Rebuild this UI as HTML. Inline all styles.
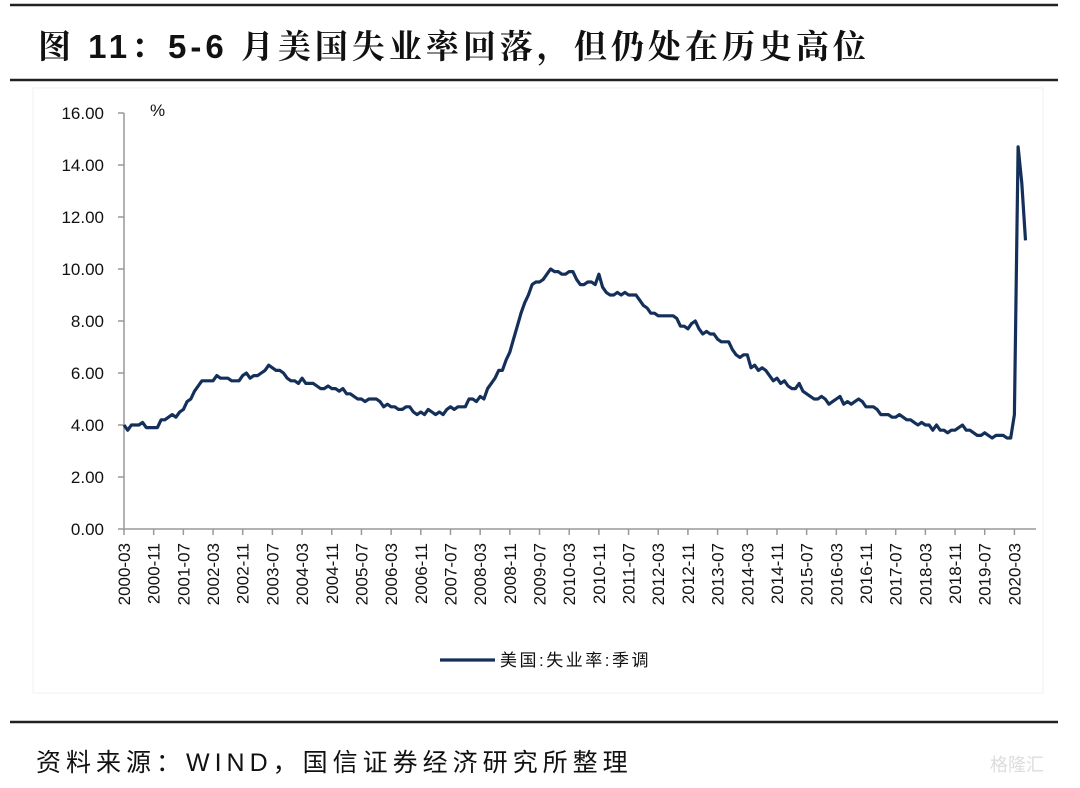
<!DOCTYPE html>
<html><head><meta charset="utf-8"><style>
body{margin:0;width:1080px;height:788px;background:#fff;overflow:hidden;font-family:"Liberation Sans","Noto Sans CJK SC",sans-serif}
</style></head><body>
<svg id="s" width="1080" height="788" xmlns="http://www.w3.org/2000/svg" style="position:absolute;left:0;top:0">
<line x1="10" y1="5" x2="1058" y2="5" stroke="#222" stroke-width="2.5"/>
<text x="38" y="58" font-size="33" font-weight="bold" letter-spacing="4" font-family="Liberation Sans,Noto Serif CJK SC,serif" fill="#111">图 11：5-6 月美国失业率回落，但仍处在历史高位</text>
<line x1="10" y1="80" x2="1058" y2="80" stroke="#222" stroke-width="2.5"/>
<rect x="33" y="88" width="1010" height="605" fill="none" stroke="#f2f2f2"/>
<g id="ax" font-size="17" fill="#111"></g>
<text x="150" y="116" font-size="17" fill="#111">%</text>
<polyline id="ln" fill="none" stroke="#14305a" stroke-width="3.2" stroke-linejoin="round"/>
<line x1="440" y1="660" x2="495" y2="660" stroke="#14305a" stroke-width="3.2"/>
<text x="500" y="666" font-size="17" letter-spacing="2.5" fill="#111">美国:失业率:季调</text>
<line x1="10" y1="722" x2="1058" y2="722" stroke="#222" stroke-width="2.5"/>
<text x="36" y="771" font-size="25" letter-spacing="5" fill="#111">资料来源：WIND，国信证券经济研究所整理</text>
<text x="990" y="771" font-size="18" fill="#ddd">格隆汇</text>
</svg>
<script>
var d=[4.0,3.8,4.0,4.0,4.0,4.1,3.9,3.9,3.9,3.9,
4.2,4.2,4.3,4.4,4.3,4.5,4.6,4.9,5.0,5.3,5.5,5.7,
5.7,5.7,5.7,5.9,5.8,5.8,5.8,5.7,5.7,5.7,5.9,6.0,
5.8,5.9,5.9,6.0,6.1,6.3,6.2,6.1,6.1,6.0,5.8,5.7,
5.7,5.6,5.8,5.6,5.6,5.6,5.5,5.4,5.4,5.5,5.4,5.4,
5.3,5.4,5.2,5.2,5.1,5.0,5.0,4.9,5.0,5.0,5.0,4.9,
4.7,4.8,4.7,4.7,4.6,4.6,4.7,4.7,4.5,4.4,4.5,4.4,
4.6,4.5,4.4,4.5,4.4,4.6,4.7,4.6,4.7,4.7,4.7,5.0,
5.0,4.9,5.1,5.0,5.4,5.6,5.8,6.1,6.1,6.5,6.8,7.3,
7.8,8.3,8.7,9.0,9.4,9.5,9.5,9.6,9.8,10.0,9.9,9.9,
9.8,9.8,9.9,9.9,9.6,9.4,9.4,9.5,9.5,9.4,9.8,9.3,
9.1,9.0,9.0,9.1,9.0,9.1,9.0,9.0,9.0,8.8,8.6,8.5,
8.3,8.3,8.2,8.2,8.2,8.2,8.2,8.1,7.8,7.8,7.7,7.9,
8.0,7.7,7.5,7.6,7.5,7.5,7.3,7.2,7.2,7.2,6.9,6.7,
6.6,6.7,6.7,6.2,6.3,6.1,6.2,6.1,5.9,5.7,5.8,5.6,
5.7,5.5,5.4,5.4,5.6,5.3,5.2,5.1,5.0,5.0,5.1,5.0,
4.8,4.9,5.0,5.1,4.8,4.9,4.8,4.9,5.0,4.9,4.7,4.7,
4.7,4.6,4.4,4.4,4.4,4.3,4.3,4.4,4.3,4.2,4.2,4.1,
4.0,4.1,4.0,4.0,3.8,4.0,3.8,3.8,3.7,3.8,3.8,3.9,
4.0,3.8,3.8,3.7,3.6,3.6,3.7,3.6,3.5,3.6,3.6,3.6,
3.5,3.5,4.4,14.7,13.3,11.1];
var X0=124,DX=3.71,Y0=529,K=26,p=[];
for(var i=0;i<d.length;i++)p.push((X0+i*DX).toFixed(1)+","+(Y0-d[i]*K).toFixed(1));
document.getElementById("ln").setAttribute("points",p.join(" "));
var g=document.getElementById("ax"),h="";
h+='<line x1="124" y1="113" x2="124" y2="529" stroke="#999" stroke-width="1.5"/>';
h+='<line x1="124" y1="529" x2="1036" y2="529" stroke="#999" stroke-width="1.5"/>';
for(var v=0;v<=16;v+=2){var y=Y0-v*K;h+='<line x1="118" y1="'+y+'" x2="124" y2="'+y+'" stroke="#999" stroke-width="1.5"/>';
h+='<text x="104" y="'+(y+6)+'" text-anchor="end">'+v.toFixed(2)+'</text>';}
var yr=2000,m=3;
for(var j=0;j<=30;j++){var x=X0+j*8*DX;
h+='<line x1="'+x+'" y1="529" x2="'+x+'" y2="535" stroke="#999" stroke-width="1.5"/>';
var lab=yr+"-"+(m<10?"0":"")+m;
h+='<text transform="translate('+(x+6)+',543) rotate(-90)" text-anchor="end">'+lab+'</text>';
m+=8;if(m>12){m-=12;yr++;}}
g.innerHTML=h;
</script>
</body></html>
